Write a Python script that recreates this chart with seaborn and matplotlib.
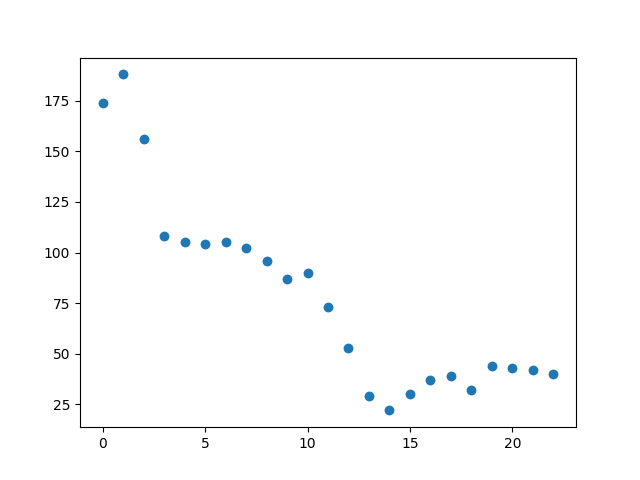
import matplotlib
matplotlib.use("Agg")
import matplotlib.pyplot as plt
import seaborn as sns
import numpy as np

x_values = list(range(23))
y_values = [174, 188, 156, 108, 105, 104, 105, 102, 96, 87, 90, 73, 53, 29, 22, 30, 37, 39, 32, 44, 43, 42, 40]

fig, ax = plt.subplots(figsize=(6.4, 4.8), dpi=100)
sns.scatterplot(x=x_values, y=y_values, ax=ax, s=50, color="#1f77b4", linewidth=0)
fig.savefig("out.png", dpi=100)
